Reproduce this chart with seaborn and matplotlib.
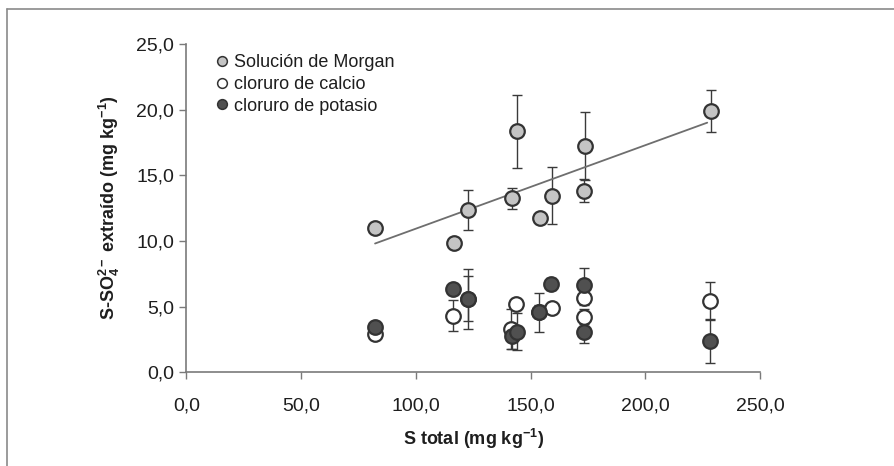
import matplotlib
matplotlib.use("Agg")
import numpy as np
import matplotlib.pyplot as plt
import seaborn as sns
from matplotlib.lines import Line2D
from matplotlib.ticker import FuncFormatter

# S-SO4 extraido vs S total, three extractants

sns.set_theme()
sns.set_style("white")
plt.rcParams['font.family'] = ['Liberation Sans', 'DejaVu Sans']
plt.rcParams['mathtext.fontset'] = 'custom'
plt.rcParams['mathtext.rm'] = 'Liberation Sans:bold'
plt.rcParams['mathtext.it'] = 'Liberation Sans:bold'
plt.rcParams['mathtext.bf'] = 'Liberation Sans:bold'

morgan_x = [82.2, 116.7, 122.8, 142.0, 143.9, 154.1, 159.5, 173.7, 173.5, 228.5]
morgan_y = [11.0, 9.83, 12.37, 13.26, 18.34, 11.74, 13.46, 17.25, 13.84, 19.86]
morgan_err = [0, 0, 1.5, 0.8, 2.75, 0, 2.2, 2.6, 0.9, 1.6]

calcio_x = [82.2, 116.3, 122.6, 141.5, 143.6, 153.8, 159.2, 173.4, 173.4, 228.2]
calcio_y = [2.9, 4.31, 5.6, 3.3, 5.2, 4.6, 4.88, 5.69, 4.24, 5.43]
calcio_err = [0, 1.2, 1.7, 1.5, 0.4, 0.5, 0, 0.56, 0.6, 1.43]

potasio_x = [82.2, 116.3, 122.6, 141.8, 143.9, 153.8, 158.9, 173.4, 173.4, 228.2]
potasio_y = [3.48, 6.35, 5.56, 2.75, 3.1, 4.57, 6.7, 6.65, 3.05, 2.39]
potasio_err = [0, 0.4, 2.3, 1.0, 1.4, 1.5, 0.45, 1.3, 0.8, 1.7]

labels = ['Solución de Morgan', 'cloruro de calcio', 'cloruro de potasio']
fills = ['#c4c4c4', 'white', '#505050']

fig = plt.figure(figsize=(8.94, 4.66), dpi=100)
ax = fig.add_axes([0.2086, 0.2011, 0.6415, 0.7045])

series = [(calcio_x, calcio_y, calcio_err, fills[1]),
          (potasio_x, potasio_y, potasio_err, fills[2]),
          (morgan_x, morgan_y, morgan_err, fills[0])]

for x, y, e, c in series:
    ax.errorbar(x, y, yerr=e, fmt='none', ecolor='#3a3a3a', elinewidth=1, capsize=3.5, capthick=1, zorder=2)
    sns.scatterplot(x=x, y=y, ax=ax, color=c, edgecolor='#333333', linewidth=1.6, s=110, zorder=3)

# linear trend for Morgan
coef = np.polyfit(morgan_x, morgan_y, 1)
xl = np.array([min(morgan_x), max(morgan_x) - 1.5])
ax.plot(xl, np.polyval(coef, xl), color='#6e6e6e', lw=1.3, zorder=2.5)

ax.set_xlim(0, 250)
ax.set_ylim(0, 25)
ax.set_xticks(np.arange(0, 251, 50))
ax.set_yticks(np.arange(0, 26, 5))
fmt = FuncFormatter(lambda v, p: f"{v:.1f}".replace('.', ','))
ax.xaxis.set_major_formatter(fmt)
ax.yaxis.set_major_formatter(fmt)

for s in ['top', 'right']:
    ax.spines[s].set_visible(False)
for s in ['left', 'bottom']:
    ax.spines[s].set_color('#7a7a7a')
    ax.spines[s].set_linewidth(1.2)
ax.tick_params(axis='both', direction='out', length=5, width=1, color='#7a7a7a',
               labelsize=14, labelcolor='#1e1e1e', bottom=True, left=True)
ax.tick_params(axis='x', pad=13)
ax.tick_params(axis='y', pad=4)

ax.set_xlabel('S total (mg kg$^{-1}$)', fontsize=13, fontweight='bold', color='#1e1e1e', labelpad=9)
ax.set_ylabel('S-SO$_4^{2-}$ extraído (mg kg$^{-1}$)', fontsize=13, fontweight='bold',
              color='#1e1e1e', labelpad=10)

handles = [Line2D([], [], marker='o', ls='none', markersize=7, markerfacecolor=c,
                  markeredgecolor='#333333', markeredgewidth=1.1) for c in fills]
ax.legend(handles, labels, loc='upper left', bbox_to_anchor=(0.03, 0.99), frameon=False,
          fontsize=13, handletextpad=0.1, labelspacing=0.25, borderaxespad=0,
          handlelength=1.2, labelcolor='#1e1e1e')

# frame lines from the cropped figure
fig.add_artist(Line2D([0.008, 1.0], [0.981, 0.981], color='#8a8a8a', lw=1.2))
fig.add_artist(Line2D([0.008, 0.008], [0.0, 0.981], color='#8a8a8a', lw=1.2))

fig.savefig('out.png', dpi=100)
